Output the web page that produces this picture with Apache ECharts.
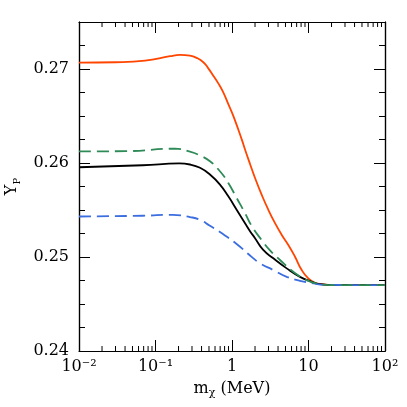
<!DOCTYPE html>
<html>
<head>
<meta charset="UTF-8">
<title>Y_P vs m_chi</title>
<script src="https://cdn.jsdelivr.net/npm/echarts@6/dist/echarts.min.js"></script>
<style>
html, body { margin: 0; padding: 0; background: #fff; }
#container { width: 407px; height: 407px; }
</style>
</head>
<body>
<div id="container"></div>
<script type="text/javascript">
// mass in MeV, Y_P
var massOrange = [0.01, 0.03, 0.073, 0.155, 0.209, 0.282, 0.346, 0.422, 0.49, 0.57, 0.662, 0.769, 0.895, 1.04, 1.34, 1.48, 1.72, 2.0, 2.44, 2.98, 3.65, 4.47, 5.45, 6.66, 8.15, 9.94, 12.2, 14.9, 25, 100];
var ypOrange   = [0.27068, 0.27072, 0.27089, 0.27136, 0.27150, 0.27142, 0.27118, 0.27072, 0.27007, 0.26928, 0.26847, 0.26751, 0.26626, 0.26501, 0.26251, 0.26144, 0.25990, 0.25840, 0.25663, 0.25503, 0.25360, 0.25235, 0.25128, 0.25003, 0.24861, 0.24772, 0.24725, 0.24711, 0.24700, 0.24700];

var massBlack = [0.01, 0.068, 0.205, 0.282, 0.382, 0.515, 0.696, 0.895, 1.15, 1.48, 1.72, 2.0, 2.56, 3.47, 5.19, 7.74, 11.0, 14.1, 22, 100];
var ypBlack   = [0.25955, 0.25976, 0.25995, 0.25984, 0.25949, 0.25877, 0.25770, 0.25645, 0.25503, 0.25360, 0.25275, 0.25200, 0.25075, 0.24986, 0.24879, 0.24789, 0.24736, 0.24711, 0.24700, 0.24700];

var massGreen = [0.01, 0.041, 0.18, 0.282, 0.382, 0.515, 0.696, 0.895, 1.15, 1.48, 1.81, 2.44, 3.14, 4.24, 6.32, 9.46, 12.8, 19.1, 100];
var ypGreen   = [0.26123, 0.26126, 0.26152, 0.26120, 0.26080, 0.26019, 0.25912, 0.25788, 0.25628, 0.25467, 0.25330, 0.25180, 0.25070, 0.24968, 0.24843, 0.24754, 0.24719, 0.24700, 0.24700];

var massBlue = [0.01, 0.068, 0.168, 0.282, 0.382, 0.515, 0.696, 1.15, 1.72, 2.32, 3.47, 5.19, 7.74, 11.6, 16.4, 100];
var ypBlue   = [0.25431, 0.25439, 0.25449, 0.25425, 0.25396, 0.25332, 0.25265, 0.25139, 0.25016, 0.24933, 0.24861, 0.24789, 0.24747, 0.24719, 0.24704, 0.24700];

// x axis runs in log10(mass)
var xTickLabels = ['10⁻²', '10⁻¹', '1', '10', '10²'];
var xMinorMass = [0.02, 0.03, 0.04, 0.05, 0.06, 0.07, 0.08, 0.09,
                  0.2, 0.3, 0.4, 0.5, 0.6, 0.7, 0.8, 0.9,
                  2, 3, 4, 5, 6, 7, 8, 9,
                  20, 30, 40, 50, 60, 70, 80, 90];
var yMajor = [0.24, 0.25, 0.26, 0.27];
var yTickLabels = ['0.24', '0.25', '0.26', '0.27'];

function pairs(xs, ys) {
    var out = [];
    for (var i = 0; i < xs.length; i++) out.push([Math.log10(xs[i]), ys[i]]);
    return out;
}

var font = 'DejaVu Serif';
var axisLineStyle = {color: '#000', width: 1.2};
var tickStyle = {color: '#000', width: 1};

function xAxisDef(pos, labels) {
    return {
        type: 'value', min: -2, max: 2, interval: 1, position: pos,
        axisLine: {show: true, onZero: false, lineStyle: axisLineStyle},
        axisTick: {show: true, inside: true, length: 11, lineStyle: tickStyle},
        axisLabel: labels ? {
            show: true, margin: 8,
            fontFamily: font, fontSize: 16, color: '#000',
            formatter: function (v) {
                return xTickLabels[Math.round(v) + 2];
            }
        } : {show: false},
        splitLine: {show: false}
    };
}

function yAxisDef(pos, interval, len, labels) {
    return {
        type: 'value', min: 0.24, max: 0.275, interval: interval, position: pos,
        axisLine: {show: true, onZero: false, lineStyle: axisLineStyle},
        axisTick: {show: true, inside: true, length: len, lineStyle: tickStyle},
        axisLabel: labels ? {
            show: true, margin: 10, showMaxLabel: false,
            fontFamily: font, fontSize: 16, color: '#000',
            formatter: function (v) {
                for (var i = 0; i < yMajor.length; i++) {
                    if (Math.abs(v - yMajor[i]) < 1e-6) return yTickLabels[i];
                }
                return '';
            }
        } : {show: false},
        splitLine: {show: false}
    };
}

var yName = yAxisDef('left', 0.01, 11, true);
yName.name = '{y|Y}{p|P}';
yName.nameLocation = 'middle';
yName.nameGap = 57;
yName.nameTextStyle = {
    rich: {
        y: {fontFamily: font, fontSize: 16, color: '#000', lineHeight: 20},
        p: {fontFamily: font, fontSize: 10, color: '#000', verticalAlign: 'bottom', lineHeight: 14}
    }
};

var xName = xAxisDef('bottom', true);
xName.name = '{m|m}{s|χ}{m| (MeV)}';
xName.nameLocation = 'middle';
xName.nameGap = 28;
xName.nameTextStyle = {
    rich: {
        m: {fontFamily: font, fontSize: 16, color: '#000', lineHeight: 20},
        s: {fontFamily: font, fontSize: 11, color: '#000', verticalAlign: 'bottom', lineHeight: 14}
    }
};

// minor ticks of the log axis, top and bottom, placed through the axis scales
function renderMinorTick(params, api) {
    var x = api.value(0);
    var pb = api.coord([x, 0.24]);
    var pt = api.coord([x, 0.275]);
    return {
        type: 'group',
        children: [
            {type: 'line', shape: {x1: pb[0], y1: pb[1], x2: pb[0], y2: pb[1] - 5}, style: {stroke: '#000', lineWidth: 1}},
            {type: 'line', shape: {x1: pt[0], y1: pt[1], x2: pt[0], y2: pt[1] + 5}, style: {stroke: '#000', lineWidth: 1}}
        ]
    };
}

var dom = document.getElementById('container');
var myChart = echarts.init(dom, null, {renderer: 'canvas'});

function curve(name, xs, ys, color, dashed, z) {
    return {
        type: 'line', name: name, data: pairs(xs, ys),
        showSymbol: false, smooth: 0.5, z: z,
        lineStyle: {color: color, width: 1.8, type: dashed ? [12, 6] : 'solid'}
    };
}

var option = {
    animation: false,
    backgroundColor: '#fff',
    grid: {left: 79, right: 22, top: 22, bottom: 56, containLabel: false, outerBoundsMode: 'none'},
    xAxis: [
        xName,
        xAxisDef('top', false)
    ],
    yAxis: [
        yName,
        yAxisDef('left', 0.0025, 6, false),
        yAxisDef('right', 0.01, 11, false),
        yAxisDef('right', 0.0025, 6, false)
    ],
    series: [
        {
            type: 'custom', name: 'minorTicks', renderItem: renderMinorTick,
            data: xMinorMass.map(function (m) { return [Math.log10(m)]; }),
            encode: {x: 0}, silent: true, clip: false, z: 1
        },
        curve('orange', massOrange, ypOrange, '#FF4500', false, 2),
        curve('black', massBlack, ypBlack, '#000000', false, 3),
        curve('blue', massBlue, ypBlue, '#3C6EE0', true, 4),
        curve('green', massGreen, ypGreen, '#2E8B57', true, 5)
    ]
};

myChart.setOption(option, true);
</script>
</body>
</html>
